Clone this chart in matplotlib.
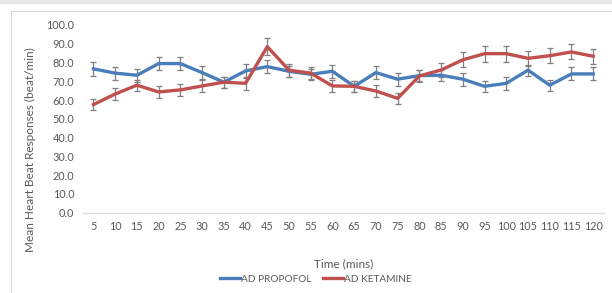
import numpy as np
import matplotlib
matplotlib.use("Agg")
import matplotlib.pyplot as plt
from matplotlib.lines import Line2D

plt.rcParams['font.family'] = ['Lato', 'DejaVu Sans']

times = [5, 10, 15, 20, 25, 30, 35, 40, 45, 50, 55, 60,
         65, 70, 75, 80, 85, 90, 95, 100, 105, 110, 115, 120]
propofol = [76.6, 74.3, 73.2, 79.4, 79.4, 74.6, 69.5, 75.5, 77.8, 75.3, 73.7, 75.3,
            67.3, 74.6, 71.1, 73.0, 73.2, 71.1, 67.3, 68.9, 75.9, 67.9, 73.9, 73.9]
propofol_err = [3.7, 3.5, 3.5, 3.6, 3.6, 3.6, 3.0, 3.6, 3.6, 3.0, 3.0, 3.6,
                3.0, 3.5, 3.5, 3.0, 3.0, 3.5, 3.0, 3.5, 3.0, 3.0, 3.5, 3.5]
ketamine = [57.6, 63.2, 67.9, 64.3, 65.4, 67.5, 69.5, 68.9, 88.4, 75.9, 74.3, 67.5,
            67.3, 64.8, 60.9, 72.8, 76.0, 81.4, 84.7, 84.7, 82.2, 83.6, 85.6, 83.3]
ketamine_err = [2.8, 3.0, 3.0, 3.0, 3.3, 3.3, 3.0, 3.3, 4.5, 3.5, 3.3, 3.3,
                3.0, 3.3, 3.0, 3.0, 3.5, 4.0, 4.2, 4.2, 4.0, 4.0, 4.0, 4.0]

BLUE = "#4a7ebb"
RED = "#c0504d"
GREY = "#595959"

fig = plt.figure(figsize=(6.12, 2.93), dpi=100)
ax = fig.add_axes([0.135, 0.274, 0.852, 0.641])
x = np.arange(len(times))

for vals, err, col in [(propofol, propofol_err, BLUE), (ketamine, ketamine_err, RED)]:
    ax.errorbar(x, vals, yerr=err, color=col, lw=2.4, ecolor="#7f7f7f",
                elinewidth=0.9, capsize=2.5, capthick=0.9, zorder=3)

ax.set_xlim(-0.5, len(times) - 0.5)
ax.set_ylim(0, 100)
ax.set_yticks(np.arange(0, 101, 10))
ax.set_yticklabels([f"{v:.1f}" for v in range(0, 101, 10)])
ax.set_xticks(x)
ax.set_xticklabels([str(t) for t in times])
ax.tick_params(length=0, labelsize=7.8, colors=GREY, pad=6)
for s in ["top", "right", "left"]:
    ax.spines[s].set_visible(False)
ax.spines["bottom"].set_color("#d9d9d9")

# chart frame (cropped screenshot look)
fig.patches.append(plt.Rectangle((0, 1 - 3 / 293), 1, 3 / 293, transform=fig.transFigure,
                                 color="#e7e7e7", zorder=0))
fig.add_artist(Line2D([11 / 612, 11 / 612], [0, 1 - 11 / 293], transform=fig.transFigure,
                      color="#d9d9d9", lw=0.8))
fig.add_artist(Line2D([11 / 612, 1], [1 - 11 / 293, 1 - 11 / 293], transform=fig.transFigure,
                      color="#d9d9d9", lw=0.8))

fig.text(30 / 612, 1 - 150 / 293, "Mean Heart Beat Responses (beat/min)", rotation=90,
         ha="center", va="center", fontsize=8.5, color=GREY)
fig.text(344 / 612, 1 - 264 / 293, "Time (mins)", ha="center", va="center",
         fontsize=8.5, color=GREY)

handles = [Line2D([], [], color=BLUE, lw=2.4), Line2D([], [], color=RED, lw=2.4)]
fig.legend(handles, ["AD PROPOFOL", "AD KETAMINE"], loc="center",
           bbox_to_anchor=(316 / 612, 1 - 279 / 293), ncol=2, frameon=False,
           fontsize=7.3, labelcolor=GREY, handlelength=2.0, handletextpad=0.1,
           columnspacing=1.1, borderaxespad=0)

fig.savefig("out.png", dpi=100)
